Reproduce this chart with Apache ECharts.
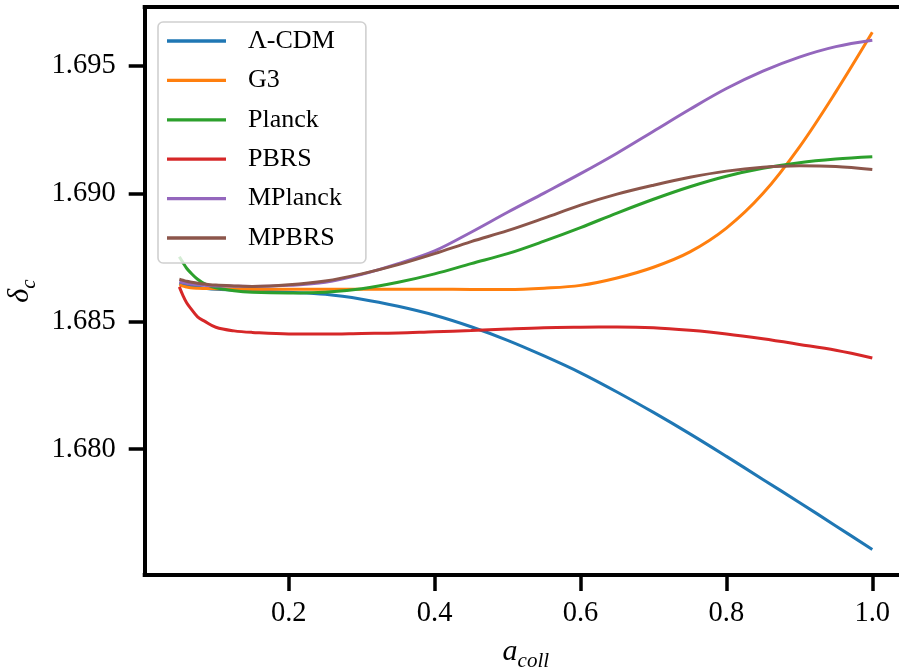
<!DOCTYPE html>
<html>
<head>
<meta charset="utf-8">
<script src="https://cdn.jsdelivr.net/npm/echarts@6/dist/echarts.min.js"></script>
<style>
  html, body { margin: 0; padding: 0; background: #ffffff; }
  #chart { width: 899px; height: 670px; }
</style>
</head>
<body>
<div id="chart"></div>
<script>
// Collapse scale factor grid shared by every model curve
const aColl = [0.05, 0.055, 0.06, 0.065, 0.075, 0.085, 0.1, 0.125, 0.15, 0.2, 0.25, 0.3, 0.35, 0.4,
               0.45, 0.5, 0.55, 0.6, 0.65, 0.7, 0.75, 0.8, 0.85, 0.9, 0.95, 1.0];

// Linear collapse threshold delta_c for each model
const lcdm    = [1.68650, 1.68645, 1.68641, 1.68638, 1.68634, 1.68630, 1.68626, 1.68623, 1.68620, 1.68614,
                 1.68606, 1.68587, 1.68559, 1.68524, 1.68479, 1.68426, 1.68365, 1.68299, 1.68224, 1.68144,
                 1.68060, 1.67972, 1.67882, 1.67792, 1.67700, 1.67608];
const g3      = [1.68643, 1.68638, 1.68635, 1.68632, 1.68630, 1.68629, 1.68628, 1.68627, 1.68626, 1.68626,
                 1.68626, 1.68626, 1.68626, 1.68626, 1.68625, 1.68625, 1.68630, 1.68641, 1.68670, 1.68712,
                 1.68772, 1.68865, 1.69000, 1.69182, 1.69398, 1.69631];
const planck  = [1.68753, 1.68730, 1.68708, 1.68692, 1.68665, 1.68647, 1.68632, 1.68620, 1.68614, 1.68611,
                 1.68614, 1.68628, 1.68653, 1.68686, 1.68726, 1.68765, 1.68814, 1.68867, 1.68924, 1.68978,
                 1.69027, 1.69068, 1.69099, 1.69121, 1.69135, 1.69144];
const pbrs    = [1.68635, 1.68601, 1.68573, 1.68553, 1.68518, 1.68500, 1.68477, 1.68463, 1.68457, 1.68451,
                 1.68451, 1.68453, 1.68455, 1.68460, 1.68464, 1.68470, 1.68475, 1.68477, 1.68478, 1.68475,
                 1.68465, 1.68451, 1.68432, 1.68410, 1.68387, 1.68357];
const mplanck = [1.68655, 1.68652, 1.68649, 1.68646, 1.68643, 1.68641, 1.68639, 1.68638, 1.68637, 1.68641,
                 1.68653, 1.68684, 1.68726, 1.68776, 1.68849, 1.68927, 1.69002, 1.69078, 1.69158, 1.69244,
                 1.69330, 1.69411, 1.69479, 1.69534, 1.69575, 1.69600];
const mpbrs   = [1.68665, 1.68661, 1.68657, 1.68654, 1.68649, 1.68646, 1.68642, 1.68639, 1.68637, 1.68643,
                 1.68658, 1.68686, 1.68722, 1.68765, 1.68812, 1.68855, 1.68904, 1.68955, 1.68998, 1.69033,
                 1.69064, 1.69088, 1.69103, 1.69109, 1.69106, 1.69094];

const seriesNames = ['Λ-CDM', 'G3', 'Planck', 'PBRS', 'MPlanck', 'MPBRS'];
const seriesValues = [lcdm, g3, planck, pbrs, mplanck, mpbrs];
const colors = ['#1f77b4', '#ff7f0e', '#2ca02c', '#d62728', '#9467bd', '#8c564b'];

const xTicks = [0.2, 0.4, 0.6, 0.8, 1.0];
const yTicks = [1.680, 1.685, 1.690, 1.695];

const FONT = '"Liberation Serif", "DejaVu Serif", serif';
const SPINE = { show: true, lineStyle: { color: '#000', width: 4, cap: 'square' } };

const chart = echarts.init(document.getElementById('chart'), null, { renderer: 'canvas' });

const series = seriesNames.map((name, k) => ({
  name: name,
  type: 'line',
  data: aColl.map((a, i) => [a, seriesValues[k][i]]),
  showSymbol: false,
  symbol: 'none',
  smooth: 0.35,
  lineStyle: { color: colors[k], width: 3 },
  itemStyle: { color: colors[k] },
  emphasis: { disabled: true },
  animation: false
}));

chart.setOption({
  animation: false,
  color: colors,
  // the plot area is cut by the right edge of the canvas, so there is no right spine
  grid: { left: 144.7, right: 0, top: 7, bottom: 95 },
  xAxis: [
    {
      type: 'value',
      position: 'bottom',
      min: 0.0025, max: 1.0366,
      splitLine: { show: false },
      axisLine: SPINE,
      axisTick: { show: true, customValues: xTicks, length: 16, lineStyle: { color: '#000', width: 3.5 } },
      axisLabel: {
        customValues: xTicks, margin: 24,
        fontFamily: FONT, fontSize: 28.5, color: '#000',
        formatter: v => v.toFixed(1)
      }
    },
    {
      type: 'value',
      position: 'top',
      min: 0.0025, max: 1.0366,
      splitLine: { show: false },
      axisLine: SPINE,
      axisTick: { show: false },
      axisLabel: { show: false }
    }
  ],
  yAxis: {
    type: 'value',
    min: 1.67508, max: 1.69730,
    splitLine: { show: false },
    axisLine: SPINE,
    axisTick: { show: true, customValues: yTicks, length: 16, lineStyle: { color: '#000', width: 3.5 } },
    axisLabel: {
      customValues: yTicks, margin: 29,
      fontFamily: FONT, fontSize: 28.5, color: '#000',
      formatter: v => v.toFixed(3)
    }
  },
  legend: {
    orient: 'vertical',
    left: 158, top: 22,
    data: seriesNames,
    icon: 'rect',
    itemWidth: 59, itemHeight: 3.3,
    itemGap: 9.4,
    padding: [4, 24, 10, 9],
    backgroundColor: 'rgba(255,255,255,0.8)',
    borderColor: '#d0d0d0', borderWidth: 1.6, borderRadius: 5,
    textStyle: { fontFamily: FONT, fontSize: 26, color: '#000', lineHeight: 30, padding: [0, 0, 0, 17] },
    selectedMode: false
  },
  graphic: [
    {
      type: 'text', x: 525.8, y: 657,
      style: {
        text: '{a|a}{s|coll}',
        align: 'center', verticalAlign: 'middle',
        rich: {
          a: { fontFamily: FONT, fontStyle: 'italic', fontSize: 30, lineHeight: 30, padding: [0, 0, 5, 0], verticalAlign: 'bottom', fill: '#000' },
          s: { fontFamily: FONT, fontStyle: 'italic', fontSize: 21, lineHeight: 21, verticalAlign: 'bottom', fill: '#000' }
        }
      }
    },
    {
      type: 'text', x: 25, y: 291, rotation: Math.PI / 2,
      style: {
        text: '{d|δ}{s|c}',
        align: 'center', verticalAlign: 'middle',
        rich: {
          d: { fontFamily: FONT, fontStyle: 'italic', fontSize: 30, lineHeight: 30, padding: [0, 0, 5, 0], verticalAlign: 'bottom', fill: '#000' },
          s: { fontFamily: FONT, fontStyle: 'italic', fontSize: 21, lineHeight: 21, verticalAlign: 'bottom', fill: '#000' }
        }
      }
    }
  ],
  series: series
});
</script>
</body>
</html>
